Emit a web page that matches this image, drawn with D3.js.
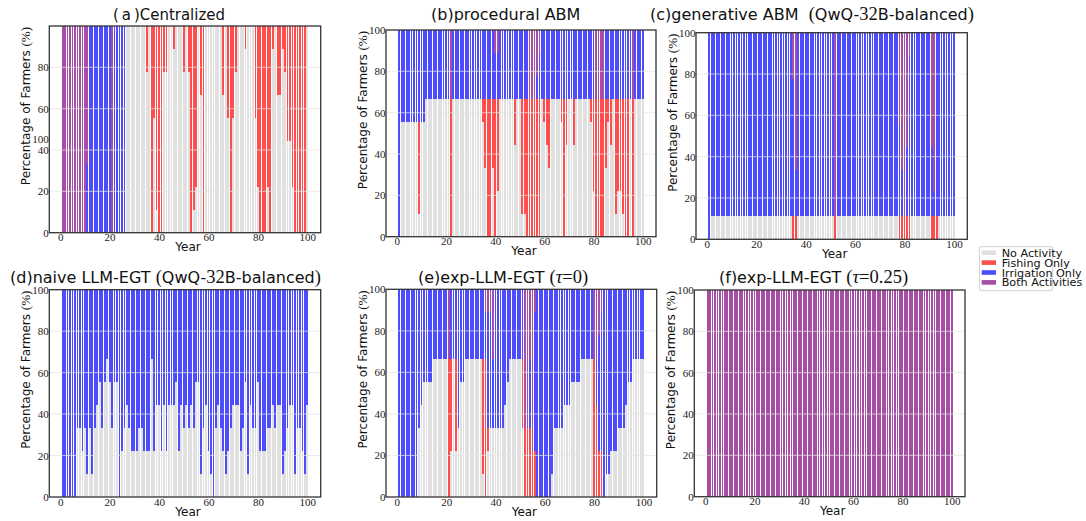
<!DOCTYPE html>
<html><head><meta charset="utf-8">
<script src="https://cdn.jsdelivr.net/npm/d3@7"></script>
<style>body{margin:0;background:#fff}svg{display:block}</style>
</head><body>
<svg id="chart" width="1086" height="521"></svg>
<script>
// ---------------- DATA (counts of farmers out of 9, years 1..100) ----------------
const FARMERS = 9;
const years = d3.range(1, 101);
const xTickValues = [0, 20, 40, 60, 80, 100];
const yTickValues = [0, 20, 40, 60, 80, 100];
const gridValues = [20, 40, 60, 80];
const categoryKeys = ['none', 'fish', 'irr', 'both'];
const categoryLabels = ['No Activity', 'Fishing Only', 'Irrigation Only', 'Both Activities'];

// (a) Centralized
const aNone = [0,0,0,0,0,0,0,0,0,0, 0,0,0,0,0,0,0,0,0,0, 0,0,0,0,0,0,9,9,9,9, 9,9,9,9,7,9,0,5,1,0,
 0,7,7,9,9,8,9,9,9,7, 9,7,0,1,2,9,6,0,9,9, 9,9,9,9,9,6,9,5,0,5, 7,9,9,9,8,9,9,9,5,2,
 0,0,0,2,0,8,9,6,6,8, 7,4,4,2,0,0,0,0,0,9];
const aFish = [0,0,0,0,0,0,0,0,0,0, 0,0,0,0,0,0,0,0,0,0, 0,0,0,0,0,0,0,0,0,0, 0,0,0,0,2,0,9,4,8,9,
 9,2,2,0,0,1,0,0,0,2, 0,2,9,8,7,0,3,9,0,0, 0,0,0,0,0,3,0,4,9,4, 2,0,0,0,1,0,0,0,4,7,
 9,9,9,7,9,1,0,3,3,1, 2,5,5,7,9,9,9,9,9,0];
const aIrr = [0,0,0,0,0,0,0,0,0,0, 3,9,9,9,9,9,9,9,9,9, 0,9,9,9,9,9,0,0,0,0, 0,0,0,0,0,0,0,0,0,0,
 0,0,0,0,0,0,0,0,0,0, 0,0,0,0,0,0,0,0,0,0, 0,0,0,0,0,0,0,0,0,0, 0,0,0,0,0,0,0,0,0,0,
 0,0,0,0,0,0,0,0,0,0, 0,0,0,0,0,0,0,0,0,0];
const aBoth = [9,9,9,9,9,9,9,9,9,9, 6,0,0,0,0,0,0,0,0,0, 9,0,0,0,0,0,0,0,0,0, 0,0,0,0,0,0,0,0,0,0,
 0,0,0,0,0,0,0,0,0,0, 0,0,0,0,0,0,0,0,0,0, 0,0,0,0,0,0,0,0,0,0, 0,0,0,0,0,0,0,0,0,0,
 0,0,0,0,0,0,0,0,0,0, 0,0,0,0,0,0,0,0,0,0];

// (b) procedural ABM
const bNone = [0,5,5,5,5,5,5,5,1,5, 5,6,6,6,6,6,6,6,6,6, 6,0,6,6,6,6,6,6,6,6, 6,6,6,6,5,3,0,0,3,0,
 2,6,6,6,6,6,6,4,6,6, 1,1,0,0,0,0,0,0,6,5, 4,3,6,6,6,6,5,0,4,6, 6,4,6,6,6,6,6,6,5,2,
 0,0,0,0,3,5,4,6,1,2, 2,1,0,0,6,0,6,6,6,6];
const bFish = [0,0,0,0,0,0,0,0,4,0, 0,0,0,0,0,0,0,0,0,0, 0,6,0,0,0,0,0,0,0,0, 0,0,0,0,1,3,6,6,3,6,
 4,0,0,0,0,0,0,2,0,0, 5,5,6,6,6,6,6,6,0,1, 2,3,0,0,0,0,1,6,2,0, 0,2,0,0,0,0,0,0,1,4,
 6,6,6,6,3,1,2,0,5,4, 4,5,6,6,0,6,0,0,0,0];
const bIrr = [9,4,4,4,4,4,4,4,4,4, 4,3,3,3,3,3,3,3,3,3, 3,0,3,3,3,3,3,3,3,3, 3,3,3,3,3,3,3,3,3,2,
 2,3,3,3,3,3,3,3,3,3, 3,3,3,0,0,0,1,2,3,3, 3,3,3,3,3,3,3,3,3,3, 3,3,3,3,3,3,3,3,3,3,
 0,0,0,0,3,3,3,3,3,3, 3,3,3,3,3,0,3,3,3,3];
const bBoth = [0,0,0,0,0,0,0,0,0,0, 0,0,0,0,0,0,0,0,0,0, 0,3,0,0,0,0,0,0,0,0, 0,0,0,0,0,0,0,0,0,1,
 1,0,0,0,0,0,0,0,0,0, 0,0,0,3,3,3,2,1,0,0, 0,0,0,0,0,0,0,0,0,0, 0,0,0,0,0,0,0,0,0,0,
 3,3,3,3,0,0,0,0,0,0, 0,0,0,0,0,3,0,0,0,0];

// (c) generative ABM (QwQ-32B-balanced)
const cNone = [0,1,1,1,1,1,1,1,1,1, 1,1,1,1,1,1,1,1,1,1, 1,1,1,1,1,1,1,1,1,1, 1,1,1,1,0,0,1,1,1,1,
 1,1,1,1,1,1,1,1,1,1, 1,0,1,1,1,1,1,1,1,1, 1,1,1,1,1,1,1,1,1,1, 1,1,1,1,1,1,1,0,0,0,
 0,0,1,1,1,1,1,1,1,1, 0,0,0,1,1,1,1,1,1,1];
const cFish = [0,0,0,0,0,0,0,0,0,0, 0,0,0,0,0,0,0,0,0,0, 0,0,0,0,0,0,0,0,0,0, 0,0,0,0,1,1,0,0,0,0,
 0,0,0,0,0,0,0,0,0,0, 0,1,0,0,0,0,0,0,0,0, 0,0,0,0,0,0,0,0,0,0, 0,0,0,0,0,0,0,1,1,1,
 1,1,0,0,0,0,0,0,0,0, 1,1,1,0,0,0,0,0,0,0];
const cIrr = [9,8,8,8,8,8,8,8,8,8, 8,8,8,8,8,8,8,8,8,8, 8,8,8,8,8,8,8,8,8,8, 8,8,8,8,6,2,8,8,8,8,
 8,8,8,8,8,8,8,8,8,8, 8,0,8,8,8,8,8,8,8,8, 8,8,8,8,8,8,8,8,8,8, 8,8,8,8,8,8,8,4,2,0,
 3,7,8,8,8,8,8,8,8,8, 3,1,8,8,8,8,8,8,8,8];
const cBoth = [0,0,0,0,0,0,0,0,0,0, 0,0,0,0,0,0,0,0,0,0, 0,0,0,0,0,0,0,0,0,0, 0,0,0,0,2,6,0,0,0,0,
 0,0,0,0,0,0,0,0,0,0, 0,8,0,0,0,0,0,0,0,0, 0,0,0,0,0,0,0,0,0,0, 0,0,0,0,0,0,0,4,6,8,
 5,1,0,0,0,0,0,0,0,0, 5,7,0,0,0,0,0,0,0,0];

// (d) naive LLM-EGT (QwQ-32B-balanced)
const dNone = [0,0,0,0,0,0,3,3,2,3, 1,3,1,3,4,5,3,5,6,5, 3,5,5,0,2,3,4,3,2,2, 2,3,3,2,2,2,6,2,4,4,
 2,4,2,4,4,4,5,2,4,3, 4,3,4,3,5,5,1,3,4,2, 1,0,3,4,3,2,1,2,3,4, 4,4,2,3,5,1,4,3,3,5,
 2,2,2,3,3,4,3,4,4,1, 2,3,4,4,1,3,3,2,1,4];
const dIrr = [9,9,9,9,9,9,6,6,7,6, 8,6,8,6,5,4,6,4,3,4, 6,4,4,9,7,6,5,6,7,7, 7,6,6,7,7,7,3,7,5,5,
 7,5,7,5,5,5,4,7,5,6, 5,6,5,6,4,4,8,6,5,7, 8,9,6,5,6,7,8,7,6,5, 5,5,7,6,4,8,5,6,6,4,
 7,7,7,6,6,5,6,5,5,8, 7,6,5,5,8,6,6,7,8,5];

// (e) exp-LLM-EGT (tau=0)
const eNone = [0,0,0,0,0,0,0,0,3,4, 5,5,5,5,6,6,6,6,6,6, 0,2,6,2,3,5,5,6,6,6, 6,6,6,6,1,0,2,3,3,3,
 3,3,3,4,5,6,6,6,6,6, 3,0,0,0,0,0,0,0,0,0, 0,0,1,3,3,3,3,4,4,4, 5,5,5,5,6,6,6,6,6,0,
 0,0,0,0,1,1,2,2,2,3, 3,3,4,5,5,6,6,6,6,6];
const eFish = [0,0,0,0,0,0,0,0,0,0, 0,0,0,0,0,0,0,0,0,0, 6,4,0,4,0,0,0,0,0,0, 0,0,0,0,5,6,1,0,0,0,
 0,0,0,0,0,0,0,0,0,0, 3,3,3,3,2,2,0,0,0,0, 0,0,0,0,0,0,0,0,0,0, 0,0,0,0,0,0,0,0,0,6,
 4,2,2,0,0,0,0,0,0,0, 0,0,0,0,0,0,0,0,0,0];
const eIrr = [9,9,9,9,9,9,9,9,6,5, 4,4,4,4,3,3,3,3,3,3, 0,3,3,3,6,4,4,3,3,3, 3,3,3,3,3,2,5,5,3,6,
 6,6,6,5,4,3,3,3,3,3, 3,0,0,3,0,6,9,9,9,9, 9,9,8,6,6,6,6,5,5,5, 4,4,4,4,3,3,3,3,3,0,
 2,5,6,9,8,8,7,7,7,6, 6,6,5,4,4,3,3,3,3,3];
const eBoth = [0,0,0,0,0,0,0,0,0,0, 0,0,0,0,0,0,0,0,0,0, 3,0,0,0,0,0,0,0,0,0, 0,0,0,0,0,1,1,1,3,0,
 0,0,0,0,0,0,0,0,0,0, 0,6,6,3,7,1,0,0,0,0, 0,0,0,0,0,0,0,0,0,0, 0,0,0,0,0,0,0,0,0,3,
 3,2,1,0,0,0,0,0,0,0, 0,0,0,0,0,0,0,0,0,0];

// (f) exp-LLM-EGT (tau=0.25)
const fBoth = [9,9,9,9,9,9,9,9,9,9, 9,9,9,9,9,9,9,9,9,9, 9,9,9,9,9,9,9,9,9,9, 9,9,9,9,9,9,9,9,9,9,
 9,9,9,9,9,9,9,9,9,9, 9,9,9,9,9,9,9,9,9,9, 9,9,9,9,9,9,9,9,9,9, 9,9,9,9,9,9,9,9,9,9,
 9,9,9,9,9,9,9,9,9,9, 9,9,9,9,9,9,9,9,9,9];

// ---------------- STYLE / LAYOUT ----------------
const colors = {none: '#e0e0e0', fish: '#ff4d4d', irr: '#4d4dff', both: '#a64da6'};
const SANS = '"DejaVu Sans", Verdana, sans-serif';
const SERIF = '"Liberation Serif", "DejaVu Serif", serif';
const xDomain = [-4.4, 105.4];

const panels = [
  {series: {none: aNone, fish: aFish, irr: aIrr, both: aBoth}, box: [49.3, 320.7, 26, 232.7],
   title: [['(\u2009a\u2009)', 's'], ['Centralized', 's']], tx: 113, ty: 20, tw: 112,
   yTicks: [0, 20, 40, 60, 80], odd: 45.3},
  {series: {none: bNone, fish: bFish, irr: bIrr, both: bBoth}, box: [386, 656, 30, 236.7],
   title: [['(b)procedural ABM', 's']], tx: 431, ty: 20, yTicks: yTickValues},
  {series: {none: cNone, fish: cFish, irr: cIrr, both: cBoth}, box: [696, 967.3, 32.7, 239.3],
   title: [['(c)generative ABM\u00a0\u00a0', 's'], ['(', 'r'], ['QwQ-', 's'], ['32', 'r'], ['B-balanced', 's'], [')', 'r']],
   tx: 650, ty: 20, yTicks: yTickValues},
  {series: {none: dNone, irr: dIrr}, box: [49.3, 320.7, 289.7, 497],
   title: [['(d)naive LLM-EGT\u00a0', 's'], ['(', 'r'], ['QwQ-', 's'], ['32', 'r'], ['B-balanced', 's'], [')', 'r']],
   tx: 10, ty: 282.5, yTicks: yTickValues},
  {series: {none: eNone, fish: eFish, irr: eIrr, both: eBoth}, box: [386, 656.7, 289.3, 497],
   title: [['(e)exp-LLM-EGT\u00a0', 's'], ['(', 'r'], ['\u03c4', 'i'], ['=0', 'r'], [')', 'r']],
   tx: 418, ty: 282.5, yTicks: yTickValues},
  {series: {both: fBoth}, box: [694.3, 965, 290, 496.7],
   title: [['(f)exp-LLM-EGT\u00a0', 's'], ['(', 'r'], ['\u03c4', 'i'], ['=0.25', 'r'], [')', 'r']],
   tx: 719, ty: 282.5, yTicks: yTickValues}
];

const svg = d3.select('#chart');
svg.append('rect').attr('width', 1086).attr('height', 521).attr('fill', '#fff');

panels.forEach(p => {
  const [x0, x1, y0, y1] = p.box;
  const x = d3.scaleLinear().domain(xDomain).range([x0, x1]);
  const y = d3.scaleLinear().domain([0, 100]).range([y1, y0]);
  const rows = years.map((yr, i) => {
    const r = {year: yr};
    categoryKeys.forEach(k => { r[k] = p.series[k] ? p.series[k][i] * 100 / FARMERS : 0; });
    return r;
  });
  const stacked = d3.stack().keys(categoryKeys)(rows);
  const bw = (x(1) - x(0)) * 0.72;
  const g = svg.append('g');

  g.selectAll('g.layer').data(stacked).join('g').attr('class', 'layer')
    .attr('fill', d => colors[d.key])
    .selectAll('rect').data(d => d.filter(s => s[1] - s[0] > 0)).join('rect')
    .attr('x', d => x(d.data.year) - bw / 2).attr('width', bw)
    .attr('y', d => y(d[1])).attr('height', d => y(d[0]) - y(d[1]))
    .attr('shape-rendering', 'crispEdges');

  g.selectAll('line.grid').data(gridValues).join('line').attr('class', 'grid')
    .attr('x1', x0).attr('x2', x1).attr('y1', d => y(d)).attr('y2', d => y(d))
    .attr('stroke', '#e4e4e4').attr('stroke-opacity', 0.7).attr('stroke-width', 1);

  g.append('rect').attr('x', x0).attr('y', y0).attr('width', x1 - x0).attr('height', y1 - y0)
    .attr('fill', 'none').attr('stroke', '#333').attr('stroke-width', 1.3);

  // axes
  const ax = g.append('g').attr('transform', `translate(0,${y1})`)
    .call(d3.axisBottom(x).tickValues(xTickValues).tickSize(0).tickPadding(0.8));
  const ay = g.append('g').attr('transform', `translate(${x0},0)`)
    .call(d3.axisLeft(y).tickValues(p.yTicks).tickSize(0).tickPadding(0.5));
  [ax, ay].forEach(a => {
    a.select('.domain').remove();
    a.selectAll('text').attr('font-family', SERIF).attr('font-size', 11).attr('fill', '#222');
  });
  if (p.odd !== undefined) {
    g.append('text').attr('x', x0 - 0.5).attr('y', y(p.odd)).attr('dy', '0.32em')
      .attr('text-anchor', 'end').attr('font-family', SERIF).attr('font-size', 11).attr('fill', '#222')
      .text('100');
  }

  // axis labels
  g.append('text').attr('x', (x0 + x1) / 2 + 3).attr('y', y1 + 18.5).attr('text-anchor', 'middle')
    .attr('font-family', SANS).attr('font-size', 12).attr('fill', '#111').text('Year');
  const yl = g.append('text').attr('transform', `translate(${x0 - 19},${y0 + 1}) rotate(-90)`)
    .attr('text-anchor', 'end').attr('font-family', SANS).attr('font-size', 12).attr('fill', '#111');
  yl.append('tspan').text('Percentage of Farmers\u00a0');
  yl.append('tspan').attr('font-family', SERIF).attr('font-size', 13).text('(%)');

  // title
  const t = g.append('text').attr('x', p.tx).attr('y', p.ty).attr('font-size', 16).attr('fill', '#111')
    .attr('font-family', SANS);
  if (p.tw) t.attr('textLength', p.tw).attr('lengthAdjust', 'spacingAndGlyphs');
  p.title.forEach(([txt, f]) => {
    const ts = t.append('tspan').text(txt);
    if (f === 'r') ts.attr('font-family', SERIF).attr('font-size', 18.5);
    if (f === 'i') ts.attr('font-family', SERIF).attr('font-size', 18.5).attr('font-style', 'italic');
  });
});

// legend
const lg = svg.append('g');
lg.append('rect').attr('x', 979.3).attr('y', 246.7).attr('width', 73.4).attr('height', 44)
  .attr('rx', 2).attr('fill', '#fff').attr('fill-opacity', 0.8).attr('stroke', '#cfcfcf').attr('stroke-width', 1);
const ly = d3.scaleLinear().domain([0, 3]).range([252.7, 282.4]);
const items = lg.selectAll('g.item').data(categoryKeys).join('g').attr('class', 'item');
items.append('rect').attr('x', 981.7).attr('y', (d, i) => ly(i) - 2.3).attr('width', 14.3).attr('height', 4.6)
  .attr('fill', d => colors[d]);
items.append('text').attr('x', 1001.7).attr('y', (d, i) => ly(i) + 4)
  .attr('font-family', SANS).attr('font-size', 11.2).attr('fill', '#111')
  .text((d, i) => categoryLabels[i]);
</script>
</body></html>
